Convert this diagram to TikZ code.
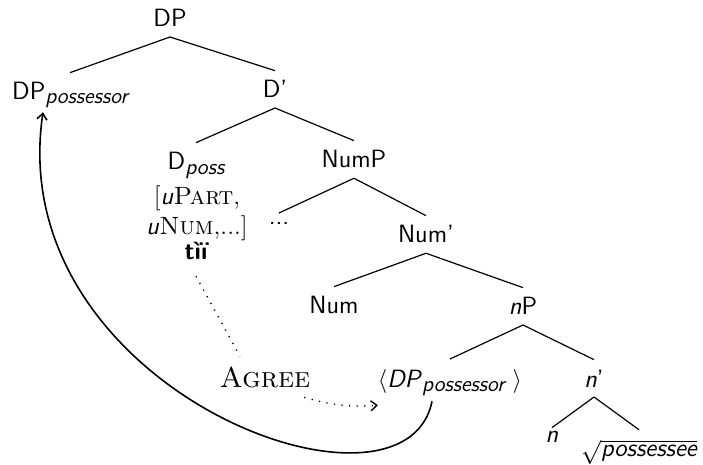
\documentclass[tikz,border=0pt]{standalone}
\usepackage{fontspec}
\usepackage{tikz}
\usetikzlibrary{arrows.meta,positioning}
\newcommand{\possub}[1]{\raisebox{-2pt}{\fontsize{11}{11}\selectfont\itshape #1}}
\tikzset{
    cat/.style={font=\fontsize{12.5}{15}\selectfont\sffamily, inner sep=0pt, outer sep=5pt, anchor=base},
    feat/.style={cat, font=\fontsize{12.5}{15}\selectfont\rmfamily},
    branch/.style={line width=0.6pt},
    agreeline/.style={dash pattern=on 0.6pt off 3.2pt, line width=0.7pt},
    move/.style={-{Straight Barb[length=3pt,width=5pt]}, line width=0.8pt}
}
\begin{document}
\begin{tikzpicture}[x=0.5pt, y=-0.5pt]
\useasboundingbox (0,0) rectangle (703,465);
% Nodes
\node[cat] (dp) at (170,27) {DP};
\node[cat] (dppos) at (70,100) {DP\possub{possessor}};
\node[cat] (dbar) at (275,98) {D'};
\node[cat] (dposs) at (196,170) {D\possub{poss}};
\node[feat] (fpart) at (197,205) {[\textsf{\itshape u}\textsc{Part},};
\node[feat] (fnum) at (197,235) {\textsf{\itshape u}\textsc{Num},...]};
\node[cat, font=\fontsize{12.5}{15}\selectfont\sffamily\bfseries] (tii) at (196,260) {tìï};
\node[cat] (nump) at (354,168) {NumP};
\node[cat] (dots) at (279,225) {...};
\node[cat] (numbar) at (426,243) {Num'};
\node[cat] (num) at (334,314) {Num};
\node[cat] (np) at (523,315) {\textit{n}P};
\node[cat] (trace) at (450,387) {$\langle$\textit{DP}\possub{possessor}\hspace{4pt}$\rangle$};
\node[cat] (nbar) at (594,387) {\textit{n}'};
\node[cat, outer sep=2pt] (n) at (552,443) {\textit{n}};
\node[cat] (root) at (639,457) {$\sqrt{\mbox{\itshape possessee}}$};
\node[cat, font=\fontsize{14.4}{16}\selectfont\rmfamily\scshape] (agr) at (265,387) {Agree};

% Branches
\draw[branch] (dp.south) -- (dppos.north);
\draw[branch] (dp.south) -- (dbar.north);
\draw[branch] (dbar.south) -- (dposs.north);
\draw[branch] (dbar.south) -- (nump.north);
\draw[branch] (nump.south) -- (dots.north);
\draw[branch] (nump.south) -- (numbar.north);
\draw[branch] (numbar.south) -- (num.north);
\draw[branch] (numbar.south) -- (np.north);
\draw[branch] (np.south) -- (trace.north);
\draw[branch] (np.south) -- (nbar.north);
\draw[branch] (nbar.south) -- (n.north);
\draw[branch] (nbar.south) -- (root.north);

% Agree and movement
\draw[agreeline] ([yshift=-3pt]tii.south) -- ([xshift=-12.5pt]agr.north);
\draw[agreeline, -{Straight Barb[length=3pt,width=5pt]}] ([xshift=-8pt]agr.south east) to[bend right=10] ([xshift=5pt]trace.south west);
\draw[move] ([xshift=-9pt,yshift=2pt]trace.south) .. controls (405,538) and (2,390) .. ([xshift=-13.5pt,yshift=3pt]dppos.south);
\end{tikzpicture}
\end{document}
